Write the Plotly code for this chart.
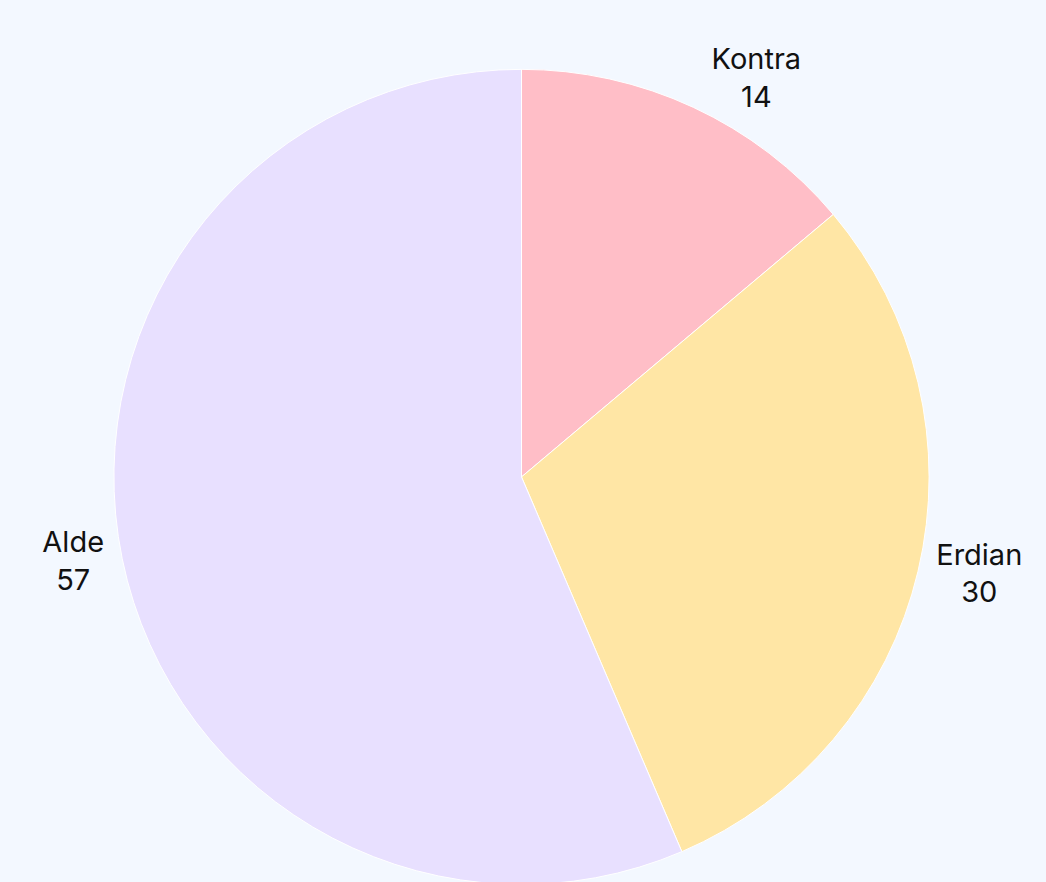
import plotly.graph_objects as go

labels = ["Kontra", "Erdian", "Alde"]
values = [14, 30, 57]
colors = ["#FFBEC7", "#FFE6A5", "#E8E0FF"]

W, H = 1046, 890

fig = go.Figure(
    go.Pie(
        labels=labels,
        values=values,
        sort=False,
        direction="clockwise",
        rotation=0,
        marker=dict(colors=colors, line=dict(color="#FFFFFF", width=1)),
        textinfo="label+value",
        textposition="outside",
        textfont=dict(family="Inter, Open Sans, sans-serif", size=29, color="#111111"),
        showlegend=False,
        hoverinfo="label+value+percent",
        domain=dict(x=[113 / W, 930 / W], y=[(H - 886.5) / H, (H - 69.5) / H]),
    )
)

fig.update_layout(
    width=W,
    height=H,
    margin=dict(l=0, r=0, t=0, b=0),
    paper_bgcolor="#F3F8FF",
    plot_bgcolor="#F3F8FF",
    font=dict(family="Inter, Open Sans, sans-serif", color="#111111"),
)

fig.write_html(
    "out.html",
    config={"displayModeBar": False},
    post_script="document.body.style.margin='0';document.body.style.overflow='hidden';document.body.style.background='#F3F8FF';",
)
